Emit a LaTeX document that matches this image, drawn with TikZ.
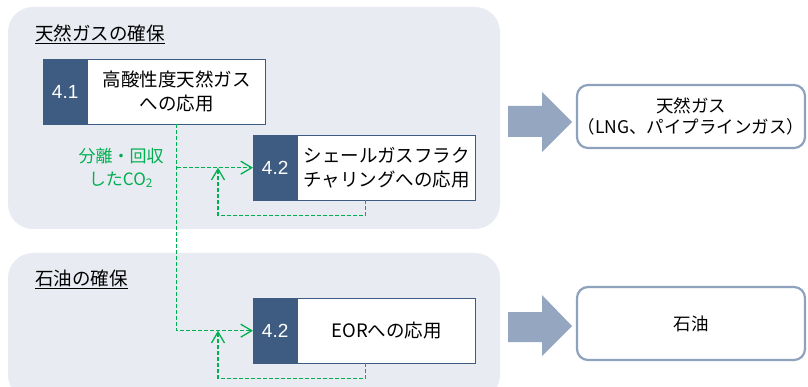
\documentclass[tikz,border=0pt]{standalone}
\usepackage{fontspec}
\setmainfont{Noto Sans CJK JP}
\newfontfamily\numfont{Liberation Sans}
\usetikzlibrary{positioning,calc,arrows.meta}
\definecolor{panelbg}{RGB}{233,235,242}
\definecolor{numblue}{RGB}{62,92,129}
\definecolor{co2green}{RGB}{0,176,80}
\definecolor{fatgray}{RGB}{149,167,192}
\definecolor{outline}{RGB}{142,162,189}
\begin{document}
\begin{tikzpicture}[x=1pt,y=-1pt,
    panel/.style={fill=panelbg,rounded corners=25pt},
    title/.style={anchor=west,inner sep=0pt,font=\fontsize{18.5}{22}\selectfont},
    numbox/.style={fill=numblue,draw=numblue,text=white,minimum width=44pt,minimum height=65pt,inner sep=0pt,anchor=north west,font=\numfont\fontsize{19}{22}\selectfont},
    appbox/.style={draw=numblue,fill=white,minimum width=178pt,minimum height=65pt,inner sep=0pt,align=center,font=\fontsize{18.5}{24}\selectfont},
    outbox/.style={draw=outline,line width=2.2pt,rounded corners=11pt,fill=white,minimum width=228pt,inner sep=0pt,align=center,font=\fontsize{17.5}{21}\selectfont},
    co2/.style={draw=co2green,line width=1.3pt,dash pattern=on 4pt off 2pt},
    co2arrow/.style={co2,-{Straight Barb[length=11pt,width=13pt]}},
    fatarrow/.style={fill=fatgray}]
      \useasboundingbox (0,0) rectangle (808,387);
      \fill[panel] (8,7) rectangle (500,229);
      \fill[panel] (8,253) rectangle (500,400);
      \node[title] (gastitle) at (35,34) {\underline{天然ガスの確保}};
      \node[title] (oiltitle) at (35,279) {\underline{石油の確保}};
      \node[numbox] (num41) at (43,59) {4.1};
      \node[appbox,right=0pt of num41] (app41) {高酸性度天然ガス\\への応用};
      \node[numbox] (num42s) at (253,135) {4.2};
      \node[appbox,right=0pt of num42s] (app42s) {シェールガスフラク\\チャリングへの応用};
      \node[numbox] (num42e) at (253,298) {4.2};
      \node[appbox,right=0pt of num42e] (app42e) {EORへの応用};
      \node[align=center,text=co2green,font=\fontsize{17}{23}\selectfont] (co2label) at (121,168) {分離・回収\\したCO\textsubscript{2}};
      \coordinate (split) at (app41.south |- num42s.west);
      \draw[co2arrow] (app41.south) -- (app41.south |- num42e.west) -- (num42e.west);
      \draw[co2arrow] (split) -- (num42s.west);
      \draw[co2arrow] ([xshift=-21pt]app42s.south) -- ++(0,15) -| ([xshift=-35pt]num42s.west);
      \draw[co2arrow] ([xshift=-21pt]app42e.south) -- ++(0,15) -| ([xshift=-35pt]num42e.west);
      \fill[fatarrow] (508,106) -- (542,106) -- (542,92) -- (572,122) -- (542,152) -- (542,137) -- (508,137) -- cycle;
      \fill[fatarrow] (508,312) -- (542,312) -- (542,295) -- (572,326) -- (542,356) -- (542,342) -- (508,342) -- cycle;
      \node[outbox,minimum height=63pt] (gasout) at (691,116.5) {天然ガス\\（LNG、パイプラインガス）};
      \node[outbox,minimum height=73pt] (oilout) at (691,323.5) {石油};
    \end{tikzpicture}
\end{document}
